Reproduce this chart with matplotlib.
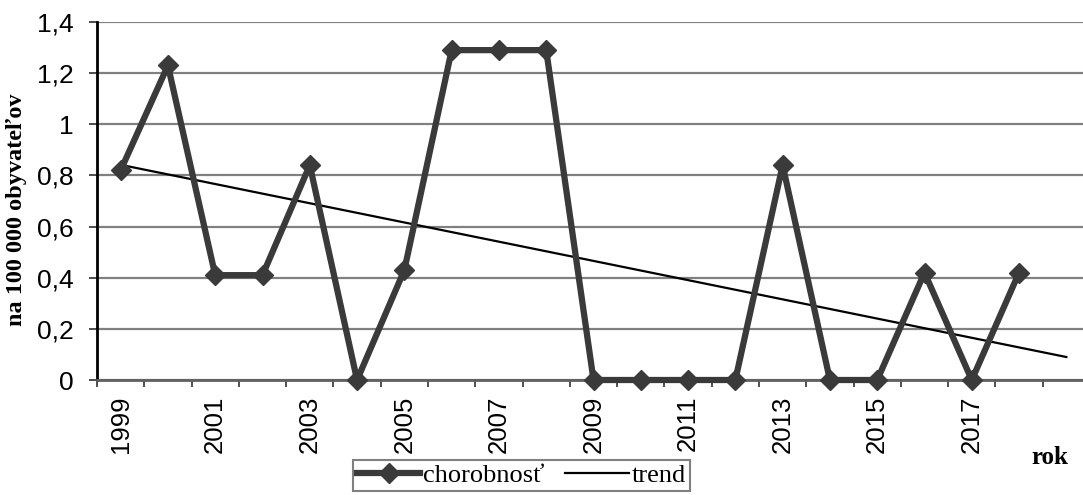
import numpy as np
import matplotlib
matplotlib.use("Agg")
import matplotlib.pyplot as plt
from matplotlib.lines import Line2D

years = list(range(1999, 2019))
values = [0.82, 1.23, 0.41, 0.41, 0.84, 0.0, 0.43, 1.29, 1.29, 1.29,
          0.0, 0.0, 0.0, 0.0, 0.84, 0.0, 0.0, 0.42, 0.0, 0.42]
ytick_vals = [0, 0.2, 0.4, 0.6, 0.8, 1.0, 1.2, 1.4]
ytick_labels = ["0", "0,2", "0,4", "0,6", "0,8", "1", "1,2", "1,4"]
series_name = "chorobnosť"
trend_name = "trend"
ylabel = "na 100 000 obyvateľov"
xlabel = "rok"

W, H = 1083, 495
fig = plt.figure(figsize=(W / 100, H / 100), dpi=100)
left, right, top, bottom = 97, 1090, 22, 380
ax = fig.add_axes([left / W, (H - bottom) / H, (right - left) / W, (bottom - top) / H])

x = np.arange(len(years))
# linear trend, forecast one period forward
coef = np.polyfit(x, values, 1)
xt = np.array([0, len(years)])
ax.plot(xt, np.polyval(coef, xt), color="black", lw=1.6, zorder=3)
ax.plot(x, values, color="#3a3a3a", lw=4.5, marker="D", ms=10, zorder=4,
        solid_joinstyle="round", clip_on=False)

ax.set_xlim(-0.5, len(years) + 0.5)
ax.set_ylim(0, 1.4)
ax.set_yticks(ytick_vals)
ax.set_yticklabels(ytick_labels, family="Liberation Sans", fontsize=19)
ax.yaxis.grid(True, color="#808080", lw=1.6)
ax.set_axisbelow(True)

ax.set_xticks(np.arange(-0.5, len(years) + 1, 1))
ax.set_xticklabels([])
ax.set_xticks(x[::2], minor=True)
ax.set_xticklabels([str(y) for y in years[::2]], minor=True, rotation=90,
                   family="Liberation Sans", fontsize=18.5)
ax.tick_params(axis="x", which="minor", length=0, pad=11)
ax.tick_params(axis="x", which="major", length=5, width=1.3, color="#404040")
ax.tick_params(axis="y", length=6, width=1.3, color="#404040", pad=11)

for s in ["top", "right"]:
    ax.spines[s].set_visible(False)
ax.spines["left"].set_color("black")
ax.spines["left"].set_linewidth(2)
ax.spines["bottom"].set_color("#606060")
ax.spines["bottom"].set_linewidth(2)

fig.text(17 / W, 1 - 210 / H, ylabel, rotation=90, ha="center", va="center",
         family="Liberation Serif", fontweight="bold", fontsize=17.5)
fig.text(1050 / W, 1 - 458 / H, xlabel, ha="center", va="center",
         family="Liberation Serif", fontweight="bold", fontsize=18)

handles = [Line2D([], [], color="#3a3a3a", lw=4.5, marker="D", ms=10),
           Line2D([], [], color="black", lw=1.6)]
leg = fig.legend(handles, [series_name, trend_name], loc="upper left",
                 bbox_to_anchor=(353 / W, 1 - 460 / H), ncol=2, frameon=True,
                 fancybox=False, edgecolor="#808080", framealpha=1,
                 prop={"family": "Liberation Serif", "size": 19},
                 handlelength=2.4, handletextpad=0.1, columnspacing=0.8,
                 borderpad=0.15, borderaxespad=0)
leg.get_frame().set_linewidth(1.5)

fig.savefig("out.png", dpi=100)
